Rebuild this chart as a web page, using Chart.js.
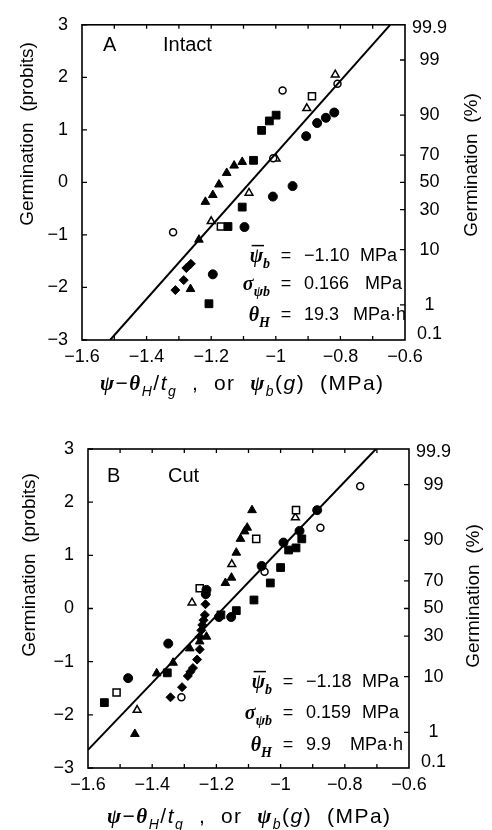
<!DOCTYPE html>
<html>
<head>
<meta charset="utf-8">
<script src="https://cdn.jsdelivr.net/npm/chart.js@4.4.1/dist/chart.umd.min.js"></script>
<style>
  body { margin: 0; background: #fff; }
  #wrap { position: relative; width: 492px; height: 830px; }
  canvas { position: absolute; left: 0; }
</style>
</head>
<body>
<div id="wrap">
  <canvas id="chartA" width="492" height="415" style="top:0"></canvas>
  <canvas id="chartB" width="492" height="415" style="top:415px"></canvas>
</div>
<script>
// axis ticks
const xTicks = [-1.6, -1.4, -1.2, -1, -0.8, -0.6];
const xTickMarks = [-1.5, -1.4, -1.3, -1.2, -1.1, -1.0, -0.9, -0.8, -0.7];
const yTicks = [-3, -2, -1, 0, 1, 2, 3];
const pctLabels = ["0.1", "1", "10", "30", "50", "70", "90", "99", "99.9"];
const pctProbits = [-2.88, -2.33, -1.28, -0.52, 0, 0.52, 1.28, 2.33, 2.94];

// A - intact seeds  [psi_b(g), probit]
const intactFilledCircle = [[-0.819, 1.33], [-0.845, 1.23], [-0.872, 1.13], [-0.906, 0.88], [-1.009, -0.27], [-0.948, -0.07], [-1.097, -0.85], [-1.195, -1.75]];
const intactOpenCircle = [[-0.979, 1.75], [-0.809, 1.88], [-1.008, 0.46], [-1.318, -0.95]];
const intactFilledSquare = [[-1.044, 0.99], [-1.020, 1.17], [-0.999, 1.28], [-1.069, 0.42], [-1.104, -0.47], [-1.148, -0.84], [-1.207, -2.31]];
const intactOpenSquare = [[-0.888, 1.64], [-1.170, -0.84]];
const intactFilledTriangle = [[-1.104, 0.39], [-1.129, 0.32], [-1.152, 0.18], [-1.176, -0.04], [-1.195, -0.24], [-1.218, -0.37], [-1.238, -1.09], [-1.264, -2.03]];
const intactOpenTriangle = [[-0.816, 2.05], [-0.904, 1.41], [-0.999, 0.45], [-1.083, -0.20], [-1.200, -0.74]];
const intactDiamond = [[-1.263, -1.55], [-1.277, -1.63], [-1.285, -1.86], [-1.311, -2.05]];
const intactLine = [[-1.513, -3], [-0.646, 3]];

// B - cut seeds
const cutFilledCircle = [[-0.886, 1.85], [-0.941, 1.46], [-0.991, 1.24], [-1.059, 0.80], [-1.231, 0.35], [-1.233, 0.27], [-1.192, -0.16], [-1.154, -0.16], [-1.350, -0.66], [-1.475, -1.31]];
const cutOpenCircle = [[-0.752, 2.30], [-0.876, 1.52], [-1.050, 0.69], [-1.309, -1.67]];
const cutFilledSquare = [[-0.934, 1.31], [-0.952, 1.14], [-0.975, 1.10], [-1.000, 0.77], [-1.032, 0.48], [-1.083, 0.16], [-1.138, -0.04], [-1.186, -0.12], [-1.353, -1.21], [-1.549, -1.77]];
const cutOpenSquare = [[-0.952, 1.85], [-1.076, 1.31], [-1.252, 0.38], [-1.511, -1.58]];
const cutFilledTriangle = [[-1.089, 1.85], [-1.104, 1.52], [-1.112, 1.45], [-1.125, 1.31], [-1.138, 1.05], [-1.153, 0.58], [-1.172, 0.48], [-1.231, -0.53], [-1.252, -0.62], [-1.283, -0.75], [-1.335, -1.02], [-1.386, -1.22], [-1.454, -2.36]];
const cutOpenTriangle = [[-0.954, 1.71], [-1.152, 0.83], [-1.276, 0.11], [-1.447, -1.91]];
const cutDiamond = [[-1.234, 0.08], [-1.236, -0.12], [-1.240, -0.22], [-1.244, -0.31], [-1.247, -0.41], [-1.252, -0.53], [-1.252, -0.77], [-1.260, -0.96], [-1.273, -1.12], [-1.281, -1.19], [-1.289, -1.27], [-1.307, -1.48], [-1.343, -1.67]];
const cutLine = [[-1.6, -2.66], [-0.703, 3]];

const SANS = '"Liberation Sans", Arial, sans-serif';
const SERIF = '"Liberation Serif", "DejaVu Serif", serif';

function pts(arr) {
    return arr.map(p => ({ x: p[0], y: p[1] }));
}

function minus(v) {
    return v < 0 ? "\u2212" + Math.abs(v) : String(v);
}

function markerSets(s) {
    const filled = { backgroundColor: "#000", borderColor: "#000", borderWidth: 1 };
    const open = { backgroundColor: "#fff", borderColor: "#000", borderWidth: 1.5 };
    return [
        { type: "line", data: pts(s.line), borderColor: "#000", borderWidth: 2, pointRadius: 0, fill: false },
        { data: pts(s.filledCircle), pointStyle: "circle", pointRadius: 4.5, ...filled },
        { data: pts(s.openCircle), pointStyle: "circle", pointRadius: 3.5, ...open },
        { data: pts(s.filledSquare), pointStyle: "rect", pointRadius: 5.5, ...filled },
        { data: pts(s.openSquare), pointStyle: "rect", pointRadius: 5, ...open },
        { data: pts(s.filledTriangle), pointStyle: "triangle", pointRadius: 5, ...filled },
        { data: pts(s.openTriangle), pointStyle: "triangle", pointRadius: 4.5, ...open },
        { data: pts(s.diamond), pointStyle: "rectRot", pointRadius: 4.5, ...filled }
    ];
}

// rich text: parts = {t, f: 'g' greek | 'i' italic | 'r' roman, sub, bar}
function fontFor(p, size) {
    const s = p.sub ? Math.round(size * 0.68) : size;
    if (p.f === "g") return "bold italic " + s + "px " + SERIF;
    if (p.f === "i") return "italic " + s + "px " + SANS;
    return s + "px " + SANS;
}

function drawRich(ctx, parts, x, y, size, align) {
    ctx.textBaseline = "alphabetic";
    ctx.textAlign = "left";
    let total = 0;
    parts.forEach(p => { ctx.font = fontFor(p, size); total += ctx.measureText(p.t).width; });
    let cx = align === "right" ? x - total : align === "center" ? x - total / 2 : x;
    parts.forEach(p => {
        ctx.font = fontFor(p, size);
        const w = ctx.measureText(p.t).width;
        const dy = p.sub ? size * 0.3 : 0;
        ctx.fillText(p.t, cx, y + dy);
        if (p.bar) {
            ctx.beginPath();
            ctx.lineWidth = 1.5;
            ctx.moveTo(cx + 2, y - size * 0.82);
            ctx.lineTo(cx + w + 1, y - size * 0.82);
            ctx.stroke();
        }
        cx += w;
    });
}

const xTitle = [
    { t: "\u03C8", f: "g" }, { t: "\u2212", f: "r" }, { t: "\u03B8", f: "g" }, { t: "H", f: "i", sub: true },
    { t: "/", f: "r" }, { t: "t", f: "i" }, { t: "g", f: "i", sub: true },
    { t: "  ,  or  ", f: "r" }, { t: "\u03C8", f: "g" }, { t: "b", f: "i", sub: true },
    { t: "(", f: "r" }, { t: "g", f: "i" }, { t: ")", f: "r" }, { t: "  (MPa)", f: "r" }
];

function decoPlugin(p) {
    return {
        id: "deco",
        afterDraw(chart) {
            const ctx = chart.ctx;
            const a = chart.chartArea;
            const sx = chart.scales.x, sy = chart.scales.y;
            ctx.save();
            ctx.strokeStyle = "#000";
            ctx.fillStyle = "#000";
            ctx.lineWidth = 1.6;
            ctx.strokeRect(a.left, a.top, a.right - a.left, a.bottom - a.top);

            // inward ticks
            ctx.lineWidth = 1.3;
            ctx.beginPath();
            xTickMarks.forEach(v => {
                const px = sx.getPixelForValue(v);
                ctx.moveTo(px, a.bottom); ctx.lineTo(px, a.bottom - 4);
                ctx.moveTo(px, a.top); ctx.lineTo(px, a.top + 4);
            });
            yTicks.forEach(v => {
                const py = sy.getPixelForValue(v);
                ctx.moveTo(a.left, py); ctx.lineTo(a.left + 5, py);
            });
            pctProbits.forEach(v => {
                if (Math.abs(v) > 2.5) return;
                const py = sy.getPixelForValue(v);
                ctx.moveTo(a.right, py); ctx.lineTo(a.right - 5, py);
            });
            ctx.stroke();

            // axis titles
            ctx.font = "19px " + SANS;
            ctx.textAlign = "center";
            ctx.textBaseline = "middle";
            ctx.save();
            ctx.translate(p.leftTitle[0], p.leftTitle[1]);
            ctx.rotate(-Math.PI / 2);
            ctx.fillText("Germination  (probits)", 0, 0);
            ctx.restore();
            ctx.save();
            ctx.translate(p.rightTitle[0], p.rightTitle[1]);
            ctx.rotate(-Math.PI / 2);
            ctx.fillText("Germination  (%)", 0, 0);
            ctx.restore();
            ctx.save();
            if ("letterSpacing" in ctx) ctx.letterSpacing = "1.5px";
            drawRich(ctx, xTitle, p.bottomTitle[0], p.bottomTitle[1], 21, "left");
            ctx.restore();

            // panel label
            ctx.font = "20px " + SANS;
            ctx.textAlign = "left";
            ctx.textBaseline = "middle";
            ctx.fillText(p.letter, p.letterPos[0], p.letterPos[1]);
            ctx.fillText(p.name, p.namePos[0], p.letterPos[1]);

            // parameter block
            const rows = [
                [{ t: "\u03C8", f: "g", bar: true }, { t: "b", f: "g", sub: true }],
                [{ t: "\u03C3", f: "g" }, { t: "\u03C8", f: "g", sub: true }, { t: "b", f: "g", sub: true }],
                [{ t: "\u03B8", f: "g" }, { t: "H", f: "g", sub: true }]
            ];
            rows.forEach((r, i) => {
                const y = p.rowY[i] + 6;
                drawRich(ctx, r, p.eqX - 6, y, 20, "right");
                ctx.font = "18px " + SANS;
                ctx.textAlign = "center";
                ctx.textBaseline = "middle";
                ctx.fillText("=", p.eqX + 10, p.rowY[i]);
                ctx.textAlign = "left";
                ctx.fillText(p.values[i], p.eqX + 28, p.rowY[i]);
                ctx.fillText(p.units[i], p.unitX[i], p.rowY[i]);
            });
            ctx.restore();
        }
    };
}

function makeChart(id, series, p) {
    new Chart(document.getElementById(id), {
        type: "scatter",
        data: { datasets: markerSets(series) },
        options: {
            responsive: false,
            animation: false,
            devicePixelRatio: 1,
            layout: { padding: { top: p.area.top, left: 0, right: 0, bottom: 0 } },
            plugins: { legend: { display: false }, tooltip: { enabled: false } },
            scales: {
                x: {
                    type: "linear", min: -1.6, max: -0.6,
                    afterBuildTicks: s => { s.ticks = xTicks.map(v => ({ value: v })); },
                    afterFit: s => { s.height = p.area.xHeight; },
                    grid: { display: false, drawTicks: false },
                    border: { display: false },
                    ticks: { autoSkip: false, maxRotation: 0, padding: 6, color: "#000",
                        font: { family: SANS, size: 18 }, callback: v => minus(v) }
                },
                y: {
                    type: "linear", position: "left", min: -3, max: 3,
                    afterBuildTicks: s => { s.ticks = yTicks.map(v => ({ value: v })); },
                    afterFit: s => { s.width = p.area.left; },
                    grid: { display: false, drawTicks: false },
                    border: { display: false },
                    ticks: { autoSkip: false, padding: 14, color: "#000",
                        font: { family: SANS, size: 18 }, callback: v => minus(v) }
                },
                y2: {
                    type: "linear", position: "right", min: -3, max: 3,
                    afterBuildTicks: s => { s.ticks = pctProbits.map(v => ({ value: v })); },
                    afterFit: s => { s.width = p.area.rightW; },
                    grid: { display: false, drawTicks: false },
                    border: { display: false },
                    ticks: { autoSkip: false, padding: 7, crossAlign: "center", color: "#000",
                        font: { family: SANS, size: 18 }, callback: (v, i) => pctLabels[i] }
                }
            }
        },
        plugins: [decoPlugin(p)]
    });
}

makeChart("chartA", {
    line: intactLine, filledCircle: intactFilledCircle, openCircle: intactOpenCircle,
    filledSquare: intactFilledSquare, openSquare: intactOpenSquare,
    filledTriangle: intactFilledTriangle, openTriangle: intactOpenTriangle, diamond: intactDiamond
}, {
    area: { top: 18, left: 82, rightW: 87, xHeight: 75 },
    letter: "A", name: "Intact", letterPos: [103, 45], namePos: [163],
    leftTitle: [28, 134], rightTitle: [472, 165], bottomTitle: [100, 390],
    eqX: 276, rowY: [256, 284, 315],
    values: ["\u22121.10", "0.166", "19.3"], units: ["MPa", "MPa", "MPa\u00B7h"], unitX: [360, 365, 353]
});

makeChart("chartB", {
    line: cutLine, filledCircle: cutFilledCircle, openCircle: cutOpenCircle,
    filledSquare: cutFilledSquare, openSquare: cutOpenSquare,
    filledTriangle: cutFilledTriangle, openTriangle: cutOpenTriangle, diamond: cutDiamond
}, {
    area: { top: 34, left: 88, rightW: 83, xHeight: 62 },
    letter: "B", name: "Cut", letterPos: [107, 61], namePos: [168],
    leftTitle: [30, 150], rightTitle: [474, 181], bottomTitle: [107, 408],
    eqX: 278, rowY: [267, 298, 330],
    values: ["\u22121.18", "0.159", "9.9"], units: ["MPa", "MPa", "MPa\u00B7h"], unitX: [362, 362, 350]
});
</script>
</body>
</html>
